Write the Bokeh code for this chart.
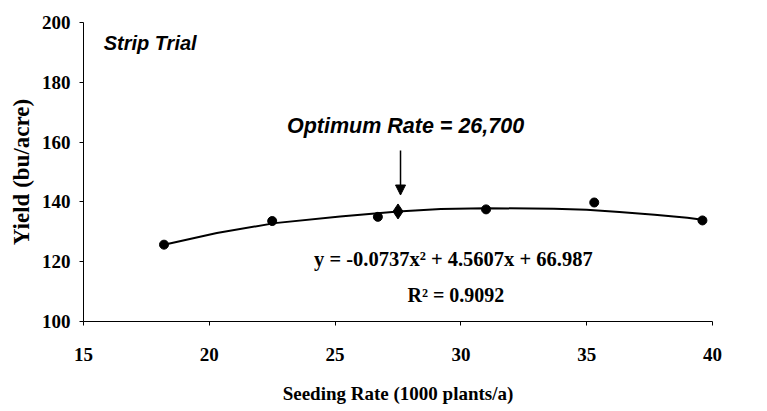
from bokeh.plotting import figure
from bokeh.models import Label, Arrow, NormalHead, ColumnDataSource, FixedTicker, Range1d
from bokeh.embed import file_html
from bokeh.resources import INLINE

# ---- data ----
seeding_rate = [18.2, 22.5, 26.7, 31.0, 35.3, 39.6]
yield_bu = [125.7, 133.6, 135.0, 137.5, 139.8, 133.8]
optimum_x = [27.5]
optimum_y = [136.8]
trend_x = [18.2, 20.3, 22.6, 25.2, 27.5, 29.2, 31.0, 33.7, 35.0, 36.3, 37.7, 39.0, 39.6]
trend_y = [125.7, 129.6, 132.9, 135.1, 136.8, 137.6, 137.9, 137.7, 137.4, 136.6, 135.7, 134.7, 134.0]
x_ticks = [15, 20, 25, 30, 35, 40]
y_ticks = [100, 120, 140, 160, 180, 200]

title_text = "Strip Trial"
optimum_text = "Optimum Rate = 26,700"
equation_text = "y = -0.0737x\u00b2 + 4.5607x + 66.987"
r2_text = "R\u00b2 = 0.9092"
x_label = "Seeding Rate (1000 plants/a)"
y_label = "Yield (bu/acre)"

SERIF = "Liberation Serif"
SANS = "Liberation Sans"

p = figure(width=767, height=411, output_backend="svg", toolbar_location=None,
           x_range=Range1d(15, 40), y_range=Range1d(100, 200),
           min_border_left=83, min_border_right=55, min_border_top=22, min_border_bottom=90)
p.outline_line_color = None
p.grid.visible = False
p.background_fill_color = "white"
p.border_fill_color = "white"

for ax in (p.xaxis[0], p.yaxis[0]):
    ax.axis_line_color = "black"
    ax.axis_line_width = 1
    ax.major_tick_line_color = "black"
    ax.major_tick_out = 4
    ax.major_tick_in = 0
    ax.minor_tick_line_color = None
    ax.major_label_text_font = SERIF
    ax.major_label_text_font_style = "bold"
    ax.major_label_text_font_size = "19px"
    ax.major_label_text_color = "black"
    ax.axis_label_text_font = SERIF
    ax.axis_label_text_font_style = "bold"
    ax.axis_label_text_color = "black"

p.xaxis.ticker = FixedTicker(ticks=x_ticks)
p.yaxis.ticker = FixedTicker(ticks=y_ticks)
p.xaxis.major_label_standoff = 22
p.yaxis.major_label_standoff = 9
p.xaxis.axis_label = x_label
p.yaxis.axis_label = y_label
p.xaxis.axis_label_text_font_size = "19px"
p.yaxis.axis_label_text_font_size = "23px"
p.xaxis.axis_label_standoff = 19
p.yaxis.axis_label_standoff = 5

trend_src = ColumnDataSource(dict(x=trend_x, y=trend_y))
p.line("x", "y", source=trend_src, line_color="black", line_width=2)

pts = ColumnDataSource(dict(x=seeding_rate, y=yield_bu))
p.scatter("x", "y", source=pts, marker="circle", size=9, fill_color="black", line_color="black")

opt = ColumnDataSource(dict(x=optimum_x, y=optimum_y))
p.scatter("x", "y", source=opt, marker="diamond", size=15, fill_color="black", line_color="black")

# annotations
arrow_x = 27.6
p.add_layout(Arrow(end=NormalHead(size=10, fill_color="black", line_color="black"),
                   x_start=arrow_x, y_start=157.2, x_end=arrow_x, y_end=142.3,
                   line_color="black", line_width=1.5))

p.add_layout(Label(x=15.8, y=193, text=title_text, text_font=SANS, text_font_style="bold italic",
                   text_font_size="20px", text_baseline="middle", text_align="left", text_color="black"))
p.add_layout(Label(x=27.8, y=165.5, text=optimum_text, text_font=SANS, text_font_style="bold italic",
                   text_font_size="21.5px", text_baseline="middle", text_align="center", text_color="black"))
p.add_layout(Label(x=29.7, y=121.0, text=equation_text, text_font=SERIF, text_font_style="bold",
                   text_font_size="20.5px", text_baseline="middle", text_align="center", text_color="black"))
p.add_layout(Label(x=29.8, y=109.0, text=r2_text, text_font=SERIF, text_font_style="bold",
                   text_font_size="20px", text_baseline="middle", text_align="center", text_color="black"))

open("out.html", "w").write(file_html(p, INLINE))
